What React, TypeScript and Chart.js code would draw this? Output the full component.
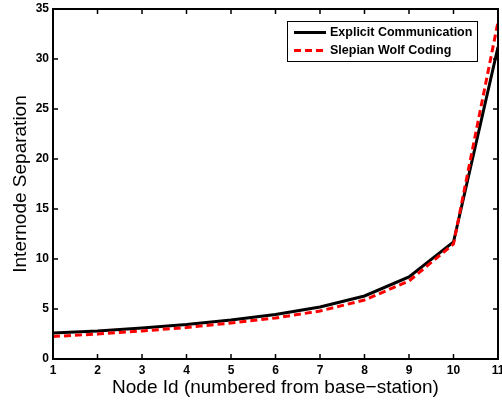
import React, { useEffect, useRef } from "react";
import { Chart, registerables } from "chart.js";

Chart.register(...registerables);

const nodeIds = [1, 2, 3, 4, 5, 6, 7, 8, 9, 10, 11];
const explicitComm = [2.6, 2.8, 3.1, 3.45, 3.9, 4.45, 5.2, 6.3, 8.2, 11.7, 31.2];
const slepianWolf = [2.25, 2.5, 2.8, 3.15, 3.6, 4.1, 4.8, 5.9, 7.8, 11.5, 33.7];
const yTicks = [0, 5, 10, 15, 20, 25, 30, 35];
const legendLabels = ["Explicit Communication", "Slepian Wolf Coding"];

const framePlugin = {
  id: "frame",
  afterDatasetsDraw(chart: any) {
    const { ctx, chartArea: a, scales } = chart;
    ctx.save();
    ctx.strokeStyle = "#000";
    ctx.lineWidth = 2;
    ctx.strokeRect(a.left, a.top, a.right - a.left, a.bottom - a.top);
    ctx.lineWidth = 1.5;
    const tl = 5;
    scales.x.ticks.forEach((t: any) => {
      const px = scales.x.getPixelForValue(t.value);
      ctx.beginPath();
      ctx.moveTo(px, a.bottom);
      ctx.lineTo(px, a.bottom - tl);
      ctx.moveTo(px, a.top);
      ctx.lineTo(px, a.top + tl);
      ctx.stroke();
    });
    scales.y.ticks.forEach((t: any) => {
      const py = scales.y.getPixelForValue(t.value);
      ctx.beginPath();
      ctx.moveTo(a.left, py);
      ctx.lineTo(a.left + tl, py);
      ctx.moveTo(a.right, py);
      ctx.lineTo(a.right - tl, py);
      ctx.stroke();
    });
    // legend
    const bx = 287, by = 21, bw = 190, bh = 40;
    ctx.fillStyle = "#fff";
    ctx.fillRect(bx, by, bw, bh);
    ctx.lineWidth = 1;
    ctx.strokeStyle = "#000";
    ctx.strokeRect(bx + 0.5, by + 0.5, bw, bh);
    const rows = [by + 11.5, by + 29.5];
    const styles = [
      { color: "#000", dash: [] as number[] },
      { color: "#ff0000", dash: [7, 4] },
    ];
    ctx.font = "bold 12.5px 'Liberation Sans', Arial, sans-serif";
    ctx.textBaseline = "middle";
    ctx.textAlign = "left";
    legendLabels.forEach((lab, i) => {
      ctx.beginPath();
      ctx.strokeStyle = styles[i].color;
      ctx.lineWidth = 3;
      ctx.setLineDash(styles[i].dash);
      ctx.moveTo(bx + 7, rows[i]);
      ctx.lineTo(bx + 39, rows[i]);
      ctx.stroke();
      ctx.setLineDash([]);
      ctx.fillStyle = "#000";
      ctx.fillText(lab, bx + 43, rows[i] + 0.5);
    });
    ctx.restore();
  },
};

export default function App() {
  const ref = useRef<HTMLCanvasElement>(null);
  useEffect(() => {
    document.body.style.margin = "0";
    const tickFont = { family: "'Liberation Sans', Arial, sans-serif", size: 12, weight: "bold" as const };
    const titleFont = { family: "'Liberation Sans', Arial, sans-serif", size: 19 };
    const chart = new Chart(ref.current!, {
      type: "line",
      data: {
        datasets: [
          {
            label: legendLabels[0],
            data: nodeIds.map((x, i) => ({ x, y: explicitComm[i] })),
            borderColor: "#000",
            borderWidth: 3,
            pointRadius: 0,
            order: 1,
          },
          {
            label: legendLabels[1],
            data: nodeIds.map((x, i) => ({ x, y: slepianWolf[i] })),
            borderColor: "#ff0000",
            borderWidth: 3,
            borderDash: [7, 4],
            pointRadius: 0,
            order: 0,
          },
        ],
      },
      options: {
        animation: false,
        responsive: false,
        layout: { padding: { top: 9, right: 4, left: 0, bottom: 0 } },
        plugins: { legend: { display: false }, tooltip: { enabled: false } },
        scales: {
          x: {
            type: "linear",
            min: 1,
            max: 11,
            ticks: { stepSize: 1, color: "#000", font: tickFont, padding: 4, maxRotation: 0, autoSkip: false },
            grid: { display: false, drawTicks: false },
            border: { display: false },
            title: { display: true, text: "Node Id (numbered from base\u2212station)", color: "#000", font: titleFont, padding: { top: 0, bottom: 3 } },
            afterFit(s: any) { s.height = 43; s.paddingLeft = 0; s.paddingRight = 0; },
          },
          y: {
            min: 0,
            max: 35,
            afterBuildTicks(s: any) { s.ticks = yTicks.map((v) => ({ value: v })); },
            ticks: { color: "#000", font: tickFont, padding: 4 },
            grid: { display: false, drawTicks: false },
            border: { display: false },
            title: { display: true, text: "Internode Separation", color: "#000", font: titleFont, padding: { top: 9, bottom: 0 } },
            afterFit(s: any) { s.width = 53; s.paddingTop = 0; s.paddingBottom = 0; },
          },
        },
      },
      plugins: [framePlugin],
    });
    return () => chart.destroy();
  }, []);
  return (
    <div style={{ position: "fixed", left: 0, top: 0, width: 502, height: 402, background: "#fff" }}>
      <canvas ref={ref} width={502} height={402} />
    </div>
  );
}
